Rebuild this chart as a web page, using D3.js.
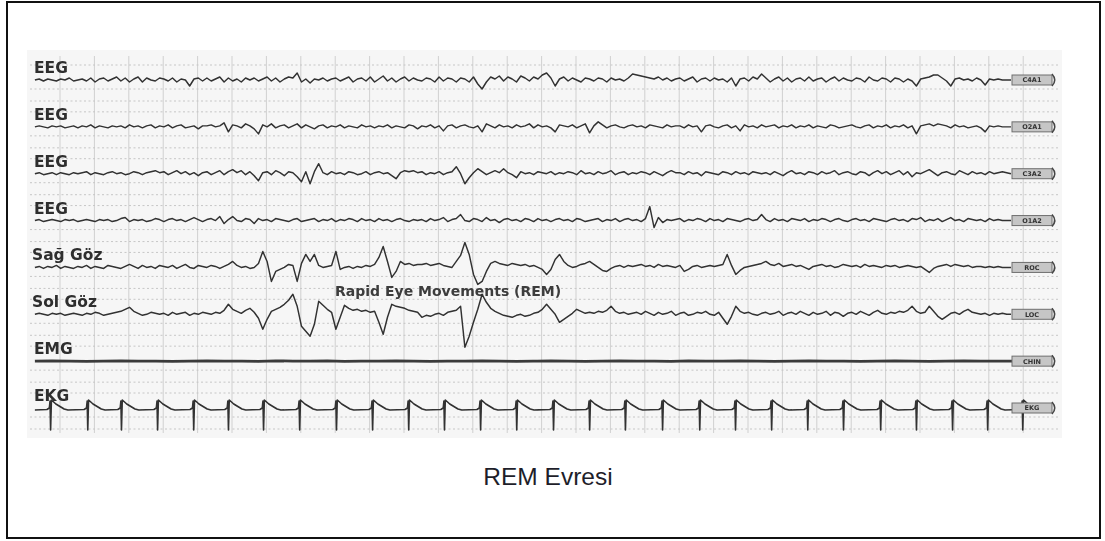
<!DOCTYPE html>
<html>
<head>
<meta charset="utf-8">
<script src="https://cdn.jsdelivr.net/npm/d3@7"></script>
<style>
  html, body { margin: 0; padding: 0; background: #fff; }
  svg { display: block; }
</style>
</head>
<body>
<svg id="chart" width="1105" height="541"></svg>
<script>
// ---- Polysomnography epoch: channel names and montage tags ----
const channelNames = ["EEG", "EEG", "EEG", "EEG", "Sağ Göz", "Sol Göz", "EMG", "EKG"];
const montageTags  = ["C4A1", "O2A1", "C3A2", "O1A2", "ROC", "LOC", "CHIN", "EKG"];

// One-second grid marks across the epoch (seconds)
const secondMarks = [1,2,3,4,5,6,7,8,9,10,11,12,13,14,15,16,17,18,19,20,21,22,23,24,25,26,27,28,29];

// Sampled traces start at T0 and use a step of DT seconds (amplitude units, up = positive)
const T0 = 0.27, DT = 0.125;

const eegC4A1 = [
  0,1,-1,1,0,-1,1,0,2,-1,
  0,1,-1,2,-2,1,2,-1,1,3,
  -1,2,-2,1,3,-2,2,0,-1,2,
  1,-1,2,-2,1,0,-6,1,2,-1,
  2,-1,1,3,-2,2,-1,1,-2,2,
  0,2,-1,1,3,-1,2,-2,1,3,
  2,7,-2,1,-3,1,0,2,-1,1,
  2,-1,1,3,-2,1,2,-1,3,-2,
  1,4,-1,2,-2,1,3,-1,2,0,
  -1,2,1,-2,3,-1,2,1,-2,2,
  1,-2,3,-4,-9,-2,3,1,4,-1,
  3,1,-2,4,2,-1,3,1,5,7,
  2,-6,1,3,-1,2,0,-2,2,1,
  -1,2,1,-2,2,0,1,-1,2,6,
  5,4,3,2,1,3,0,2,-1,1,
  2,-1,1,3,-2,1,2,-1,2,0,
  1,-2,2,-6,1,2,-1,3,1,6,
  2,-2,1,3,-1,2,-2,1,2,-1,
  3,-1,1,2,-2,1,3,-1,2,0,
  -1,2,1,-2,3,0,-1,2,1,-2,
  2,1,-2,1,-1,-6,1,2,3,5,
  5,2,-1,-6,1,2,0,1,-1,2,
  0,-5,1,0,1,0,0,0
];

const eegO2A1 = [
  0,1,0,-1,1,0,1,-1,0,1,
  -1,1,0,2,-1,1,0,-1,1,0,
  1,-1,2,0,1,-1,1,2,-1,1,
  0,2,-1,1,2,-1,0,1,-2,1,
  1,2,0,1,4,-5,2,1,-1,3,
  1,-2,-7,2,0,3,-1,1,2,-1,
  1,3,-1,2,0,-2,1,2,-1,1,
  0,2,-1,1,0,-1,2,0,1,-1,
  1,0,2,-1,1,0,-1,2,1,-2,
  1,0,2,-1,1,-4,1,2,-1,1,
  2,0,-1,1,-5,3,1,-1,2,0,
  1,-1,2,0,1,3,-1,2,0,1,
  -1,-5,2,1,0,2,-1,1,3,-6,
  1,5,2,-1,1,2,0,-1,1,2,
  0,1,-1,2,1,0,-1,2,0,1,
  1,-1,2,0,1,-5,1,2,0,-1,
  1,2,-1,1,-4,2,0,1,-1,2,
  0,1,2,-1,1,0,2,-1,1,0,
  2,-1,1,0,-1,2,1,-1,0,1,
  2,0,-1,1,2,-1,1,0,2,-1,
  1,0,2,-1,1,-7,1,2,3,1,
  3,2,1,-1,2,0,1,-1,0,1,
  -1,-5,1,0,1,0,0,0
];

const eegC3A2 = [
  0,1,-1,0,1,-1,1,0,-1,1,
  0,1,2,-1,1,0,-1,1,2,0,
  1,-1,0,2,1,-1,1,2,3,1,
  2,-1,1,3,0,2,-1,1,-2,1,
  2,-1,1,3,-1,2,4,1,3,-1,
  2,-2,-7,1,2,-1,3,1,-2,2,
  1,-3,-8,2,-10,2,10,1,-1,2,
  0,1,-1,2,1,-1,0,2,-1,1,
  2,0,1,-2,-5,1,3,2,3,1,
  2,-1,1,0,2,-1,1,2,7,0,
  -10,-4,1,5,2,-1,1,3,1,5,
  1,-1,-4,2,0,1,-1,2,1,0,
  2,-1,1,0,2,1,-1,3,0,1,
  -1,2,0,1,3,-1,1,2,-1,1,
  0,2,1,-1,2,0,-2,1,3,1,
  1,-1,2,0,1,-2,2,1,0,-1,
  2,1,-1,2,0,1,-1,2,1,0,
  1,-1,2,0,-2,1,3,0,1,-1,
  2,1,-1,2,0,1,3,-1,1,2,
  0,-1,2,1,-2,1,3,0,2,-1,
  1,3,-1,2,-3,1,0,2,4,1,
  -2,1,2,0,-1,3,1,-1,2,0,
  1,-1,2,0,1,2,1,0
];

const eegO1A2 = [
  0,1,-1,0,1,0,-1,1,0,1,
  -1,0,1,0,-1,1,0,1,-1,0,
  2,3,-1,1,0,1,-1,0,2,1,
  -1,1,2,0,1,-1,1,3,1,-1,
  1,2,0,4,-3,1,4,0,-1,2,
  1,-3,2,0,1,-1,2,1,0,-1,
  1,2,-1,0,1,2,-1,1,0,2,
  -1,1,0,2,1,-1,2,0,1,-1,
  2,0,1,-1,1,2,0,-1,1,0,
  1,-1,2,0,1,3,-1,1,2,6,
  0,-1,2,1,-1,3,0,1,-2,1,
  2,0,1,-1,2,1,-1,2,0,1,
  -1,1,2,0,1,-1,2,1,-1,0,
  1,2,-1,1,0,2,-1,1,2,0,
  1,-1,2,14,-7,3,-2,1,0,1,
  2,-1,1,0,2,1,-1,2,0,1,
  -1,2,1,0,-1,1,2,0,1,6,
  1,-1,2,0,1,-1,2,1,0,2,
  -1,1,0,2,1,-1,1,2,0,-1,
  1,2,0,1,-1,2,1,0,-1,1,
  2,0,1,-1,2,1,3,-1,1,0,
  2,-1,1,3,0,1,-1,2,1,0,
  1,-1,2,0,1,0,0,0
];

// Right eye (ROC)
const eogRight = [
  0,1,-1,1,0,2,-1,1,0,-1,
  1,0,2,-1,1,0,-1,2,1,0,
  -1,1,3,1,-1,2,0,1,-1,2,
  1,0,2,-1,1,3,0,-1,2,1,
  0,2,1,-1,1,3,6,2,0,1,
  -1,0,4,16,6,-14,-4,-2,0,3,
  2,-14,4,13,6,13,2,0,1,2,
  16,-2,0,1,-1,1,0,2,1,3,
  10,21,6,-10,-4,6,3,4,2,3,
  3,4,2,3,4,2,1,0,6,12,
  25,13,-7,-17,-14,-4,4,6,4,3,
  2,4,3,2,3,1,2,0,-2,-7,
  -2,8,13,6,2,0,1,3,4,6,
  3,0,-3,-4,-1,1,2,0,2,1,
  2,3,1,2,0,3,1,2,1,0,
  2,-4,-2,1,2,0,1,2,1,2,
  3,13,2,-7,-3,0,1,2,3,4,
  6,3,2,4,1,2,3,1,2,0,
  -2,1,2,3,1,2,0,1,3,2,
  1,2,0,3,1,2,1,0,2,1,
  2,0,1,2,1,0,1,-2,-5,-1,
  1,2,3,1,3,2,1,2,0,1,
  1,0,1,0,1,0,0,0
];

// Left eye (LOC)
const eogLeft = [
  0,1,0,-1,1,0,1,-1,0,1,
  0,-1,1,0,2,1,-1,0,1,2,
  3,5,7,3,1,-1,0,2,1,0,
  1,-1,2,0,1,2,-1,1,0,2,
  1,0,2,1,4,10,5,3,1,4,
  6,2,-4,-15,-5,3,5,7,10,14,
  20,8,-12,-17,-22,-10,13,9,5,2,
  -15,-3,9,6,4,5,3,4,2,3,
  -8,-20,-3,10,8,7,6,4,3,2,
  -3,-1,-2,0,1,-1,2,3,4,8,
  -33,-22,-8,5,20,12,6,3,1,-1,
  -2,-3,-1,0,-2,-1,1,2,5,10,
  5,0,-8,-5,-2,1,5,3,1,2,
  1,3,2,4,8,3,1,2,0,1,
  2,0,3,1,-1,2,0,1,3,-1,
  1,2,-1,0,2,1,3,0,-1,2,
  -4,-10,-2,8,3,1,2,0,-1,1,
  2,0,1,3,-1,1,2,0,3,1,
  -1,2,0,1,3,-1,2,1,-2,1,
  2,0,3,1,-1,2,4,1,0,2,
  1,3,2,4,8,3,1,2,8,3,
  -2,-5,-2,1,2,0,3,5,2,1,
  0,1,-1,1,0,1,0,0
];

// Chin EMG: almost flat during REM, sampled every half second
const EMG_DT = 0.5;
const emgChin = [
  0,0.3,0,-0.2,0,0.2,0,0,-0.3,0,
  0.2,0,0,-0.2,0.3,0,0,0.2,-0.2,0,
  0,0.3,0,-0.2,0,0,0.2,0,-0.3,0,
  0.2,0,-0.2,0,0.3,0,0,-0.2,0.2,0,
  0,0.2,0,-0.3,0,0.2,0,0,-0.2,0,
  0.3,0,-0.2,0,0.2,0,0,0
];

// EKG: R-wave times (s) and the shape of one beat [offset s, amplitude]
const ekgBeatTimes = [
  0.71, 1.79, 2.77, 3.82, 4.87, 5.88, 6.90, 7.95, 9.02, 10.07,
  11.12, 12.16, 13.21, 14.26, 15.33, 16.38, 17.42, 18.50, 19.58, 20.62,
  21.67, 22.72, 23.76, 24.84, 25.88, 26.93, 27.95, 28.97
];
const ekgBeatShape = [
  [-0.09, -1.5], [-0.02, 0], [0, 7], [0.017, -22], [0.04, 8],
  [0.09, 6.5], [0.17, 4], [0.29, 1.5], [0.41, -1], [0.52, -2]
];
const EKG_END = 29.2;

// ---- Layout ----
const svg = d3.select("#chart");

const x = d3.scaleLinear().domain([0, 29]).range([25.6, 1023.2]);
const row = d3.scaleLinear().domain([0, 7]).range([80, 408]);
const amp = d3.scaleLinear().domain([-10, 10]).range([10, -10]);

const defs = svg.append("defs");
defs.append("filter").attr("id", "soft")
  .attr("x", "-5%").attr("y", "-5%").attr("width", "110%").attr("height", "110%")
  .append("feGaussianBlur").attr("stdDeviation", 0.6);

// Outer frame
svg.append("rect")
  .attr("x", 7).attr("y", 2).attr("width", 1093).attr("height", 536)
  .attr("fill", "#fff").attr("stroke", "#111").attr("stroke-width", 2);

// Recording panel
svg.append("rect")
  .attr("x", 27).attr("y", 50).attr("width", 1035).attr("height", 388)
  .attr("fill", "#f6f6f6");

const panel = svg.append("g").attr("filter", "url(#soft)");

// Vertical one-second grid
panel.append("g").selectAll("line").data(secondMarks).join("line")
  .attr("x1", d => x(d)).attr("x2", d => x(d))
  .attr("y1", 56).attr("y2", 433)
  .attr("stroke", "#d0d0d0").attr("stroke-width", 1);

// Dotted amplitude guides around each channel
const guideOffsets = [-15, 9, 21];
const guides = [];
channelNames.forEach((_, i) => guideOffsets.forEach(o => guides.push(row(i) + o)));
panel.append("g").selectAll("line").data(guides).join("line")
  .attr("x1", 30).attr("x2", 1058)
  .attr("y1", d => d).attr("y2", d => d)
  .attr("stroke", "#c6c6c6").attr("stroke-width", 1)
  .attr("stroke-dasharray", "2,2.5");

// Annotation for the eye-movement burst
panel.append("text")
  .attr("x", 335).attr("y", 296)
  .attr("font-family", "DejaVu Sans, sans-serif")
  .attr("font-weight", "bold").attr("font-size", 14)
  .attr("fill", "#3c3c3c")
  .text("Rapid Eye Movements (REM)");

// Sampled traces
const sampled = [eegC4A1, eegO2A1, eegC3A2, eegO1A2, eogRight, eogLeft];
const traceLine = (i) => d3.line()
  .x(d => x(d[0]))
  .y(d => row(i) + amp(d[1]));

sampled.forEach((vals, i) => {
  const pts = vals.map((v, k) => [T0 + DT * k, v]);
  panel.append("path")
    .attr("d", traceLine(i)(pts))
    .attr("fill", "none").attr("stroke", "#303030")
    .attr("stroke-width", 1.45).attr("stroke-linejoin", "round");
});

// EMG
const emgPts = emgChin.map((v, k) => [T0 + EMG_DT * k, v]);
panel.append("path")
  .attr("d", traceLine(6)(emgPts))
  .attr("fill", "none").attr("stroke", "#3a3a3a").attr("stroke-width", 2.8);

// EKG
const ekgPts = [[T0, -2]];
ekgBeatTimes.forEach(b => ekgBeatShape.forEach(([dt, a]) => ekgPts.push([b + dt, a])));
ekgPts.push([EKG_END, -2]);
panel.append("path")
  .attr("d", traceLine(7)(ekgPts))
  .attr("fill", "none").attr("stroke", "#303030")
  .attr("stroke-width", 1.6).attr("stroke-linejoin", "round");

// Channel names
panel.append("g").selectAll("text").data(channelNames).join("text")
  .attr("x", (d, i) => i >= 4 && i <= 5 ? 32 : 34)
  .attr("y", (d, i) => row(i) - 7)
  .attr("font-family", "DejaVu Sans, sans-serif")
  .attr("font-weight", "bold").attr("font-size", 15.5)
  .attr("fill", "#2e2e2e")
  .text(d => d);

// Montage tags at the right end of each trace
const tags = panel.append("g").selectAll("g").data(montageTags).join("g")
  .attr("transform", (d, i) => `translate(1012,${row(i)})`);
tags.append("rect")
  .attr("x", 0).attr("y", -5).attr("width", 40).attr("height", 10)
  .attr("fill", "#c6c6c6").attr("stroke", "#6e6e6e").attr("stroke-width", 1);
tags.append("text")
  .attr("x", 20).attr("y", 2.4).attr("text-anchor", "middle")
  .attr("font-family", "DejaVu Sans, sans-serif")
  .attr("font-weight", "bold").attr("font-size", 6.5)
  .attr("fill", "#333")
  .text(d => d);
tags.append("path")
  .attr("d", "M40,-6 Q45.5,0 40,6")
  .attr("fill", "none").attr("stroke", "#444").attr("stroke-width", 1.5);

// Caption
svg.append("text")
  .attr("x", 548).attr("y", 485).attr("text-anchor", "middle")
  .attr("font-family", "Liberation Sans, Arial, sans-serif")
  .attr("font-size", 24.5).attr("fill", "#1e1e2a")
  .text("REM Evresi");
</script>
</body>
</html>
